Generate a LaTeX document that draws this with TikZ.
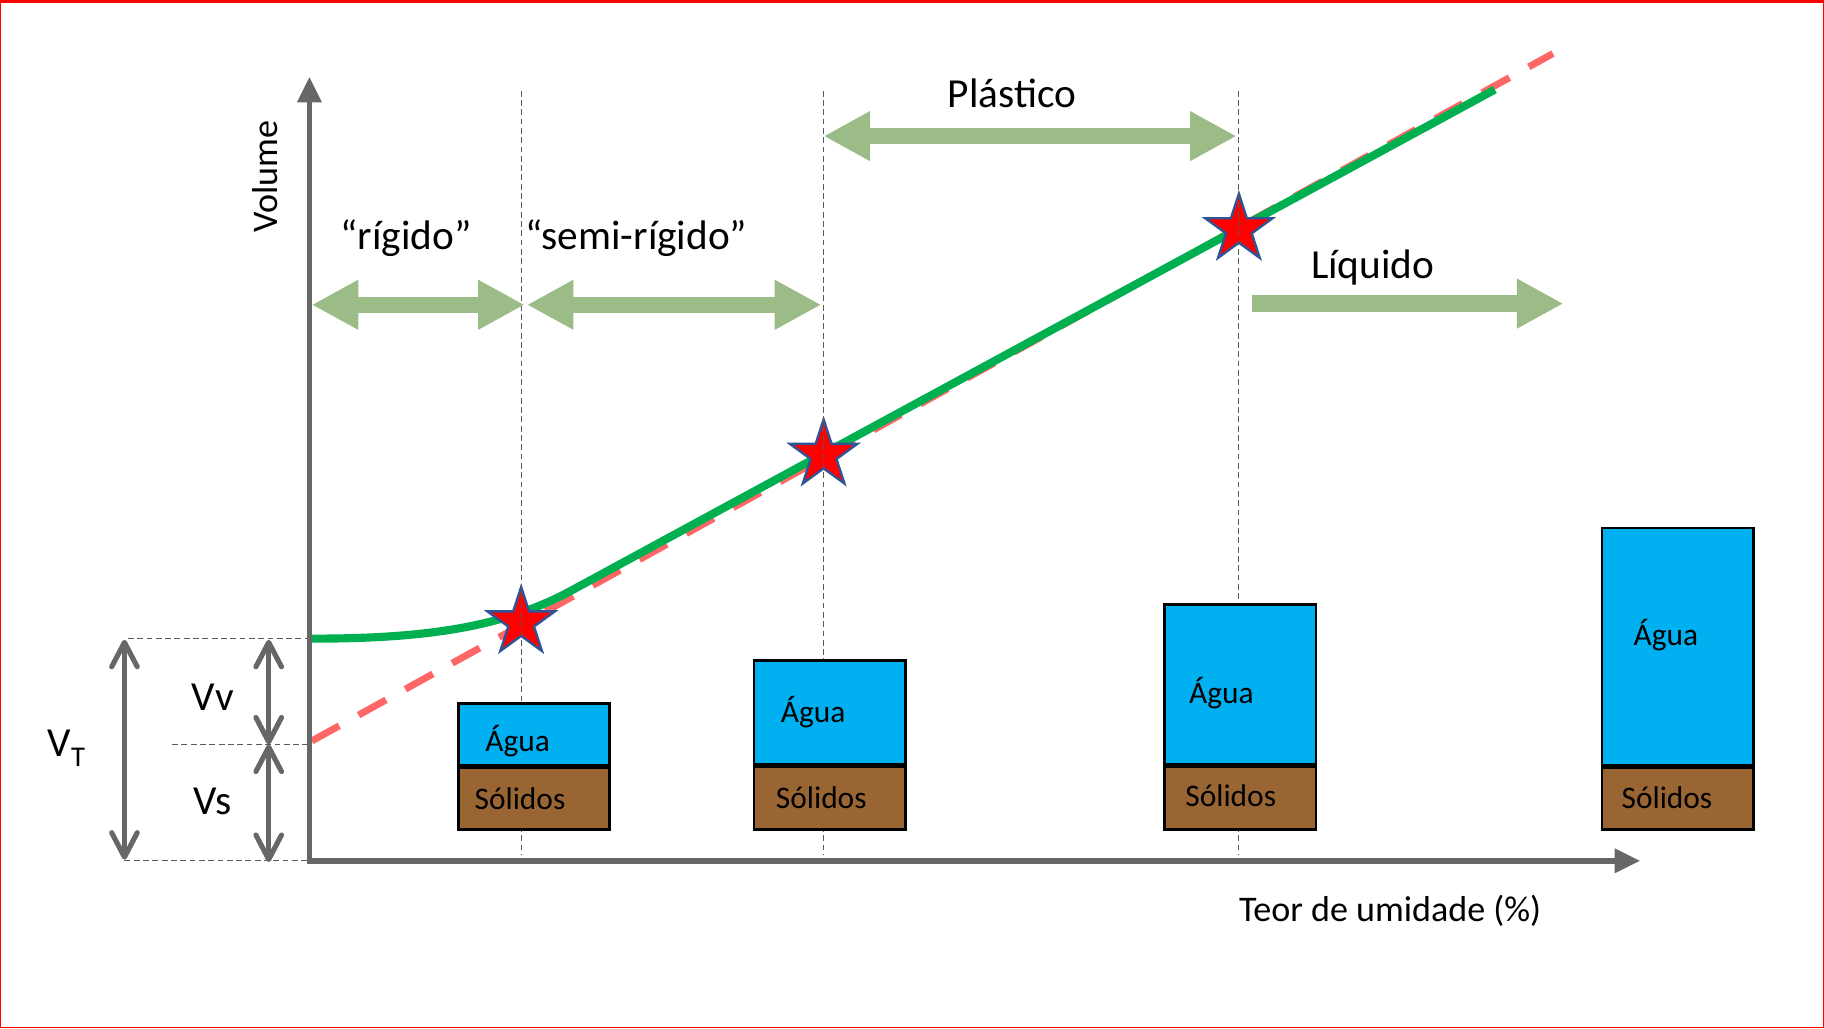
\documentclass[tikz,border=0pt]{standalone}
\usepackage{fontspec}
\setmainfont{Carlito}
\usetikzlibrary{arrows.meta,shapes.geometric}
\definecolor{axisgray}{RGB}{103,103,103}
\definecolor{guidegray}{RGB}{90,90,90}
\definecolor{sage}{RGB}{155,187,135}
\definecolor{curvegreen}{RGB}{0,176,80}
\definecolor{salmon}{RGB}{255,102,102}
\definecolor{water}{RGB}{0,176,240}
\definecolor{soil}{RGB}{153,102,51}
\definecolor{starblue}{RGB}{47,85,151}
\begin{document}
\begin{tikzpicture}[x=0.5pt,y=-0.5pt,
  axisline/.style={draw=axisgray,line width=2.5pt,-{Triangle[length=11pt,width=10pt]}},
  dimarrow/.style={draw=axisgray,line width=2.2pt,{Straight Barb[length=10.5pt,width=11pt,round]}-{Straight Barb[length=10.5pt,width=11pt,round]}},
  guide/.style={draw=guidegray,line width=0.4pt,dash pattern=on 2.5pt off 1.5pt},
  rangearrow/.style={draw=sage,line width=7pt,{Triangle[length=20pt,width=20pt]}-{Triangle[length=20pt,width=20pt]}},
  onearrow/.style={draw=sage,line width=7pt,-{Triangle[length=20pt,width=20pt]}},
  starmark/.style={star,star points=5,star point ratio=2.618,minimum size=30.5pt,inner sep=0pt,fill=red,draw=starblue,line width=1pt},
  wbox/.style={draw=black,line width=1.2pt,fill=water,inner sep=0pt,minimum width=65pt,anchor=south west},
  sbox/.style={draw=black,line width=1.2pt,fill=soil,inner sep=0pt,minimum width=65pt,minimum height=26.5pt,anchor=north west},
  bigtxt/.style={inner sep=0pt,font=\fontsize{17.75pt}{21pt}\selectfont},
  axtxt/.style={inner sep=0pt,font=\fontsize{15.5pt}{18pt}\selectfont},
  boxtxt/.style={inner sep=0pt,font=\fontsize{13.5pt}{16pt}\selectfont}]
\useasboundingbox (0,0) rectangle (1568,884);
% frame
\draw[red,line width=0.6pt] (0.6,0.6) rectangle (1567.4,883.4);
\draw[red,line width=1.2pt] (0,1.2) -- (1568,1.2);
% key coordinates
\coordinate (O) at (266,740);
\coordinate (ytip) at (266,66);
\coordinate (xtip) at (1410,740);
\coordinate (c0) at (268,549);
\coordinate (c1) at (490,508.3);
\coordinate (cend) at (1285,77);
\coordinate (r0) at (268,637);
\coordinate (rend) at (1335,46);
% red dashed trend line
\draw[salmon,line width=3pt,dash pattern=on 13.5pt off 9.5pt] (r0) -- (rend);
% green curve
\draw[curvegreen,line width=3.5pt] (c0) .. controls (360,549) and (430,540.6) .. (c1) -- (cend);
% stars
\node[starmark] (s1) at (448,535) {};
\node[starmark] (s2) at (708,391) {};
\node[starmark] (s3) at (1065,197) {};
% vertical guides
\coordinate (g1t) at (448,78); \coordinate (g1b) at (448,735);
\coordinate (g2t) at (708,78); \coordinate (g2b) at (708,735);
\coordinate (g3t) at (1065,78); \coordinate (g3b) at (1065,735);
\draw[guide] (g1t) -- (g1b);
\draw[guide] (g2t) -- (g2b);
\draw[guide] (g3t) -- (g3b);
% horizontal guides
\coordinate (hvT) at (110,549); \coordinate (hvTe) at (266,549);
\coordinate (hvM) at (148,640); \coordinate (hvMe) at (266,640);
\coordinate (hvB) at (107,740); \coordinate (hvBe) at (266,740);
\draw[guide] (hvT) -- (hvTe);
\draw[guide] (hvM) -- (hvMe);
\draw[guide] (hvB) -- (hvBe);
% boxes
\node[wbox,minimum height=26.5pt] (a1) at (393,659) {};
\node[sbox] (b1) at (393,659) {};
\node[wbox,minimum height=44.5pt] (a2) at (647,658) {};
\node[sbox,minimum height=27pt] (b2) at (647,658) {};
\node[wbox,minimum height=68.5pt] (a3) at (1000,658) {};
\node[sbox,minimum height=27pt] (b3) at (1000,658) {};
\node[wbox,minimum height=102pt] (a4) at (1376,659) {};
\node[sbox] (b4) at (1376,659) {};
\node[boxtxt] (ta1) at (445,637) {Água};
\node[boxtxt] (tb1) at (447,687) {Sólidos};
\node[boxtxt] (ta2) at (699,612) {Água};
\node[boxtxt] (tb2) at (706,686) {Sólidos};
\node[boxtxt] (ta3) at (1050,596) {Água};
\node[boxtxt] (tb3) at (1058,684) {Sólidos};
\node[boxtxt] (ta4) at (1432,546) {Água};
\node[boxtxt] (tb4) at (1433,686) {Sólidos};
% axes
\draw[axisline] (266,742) -- (ytip);
\draw[axisline] (263.5,740) -- (xtip);
\node[axtxt,rotate=90] (vol) at (228,152) {Volume};
\node[axtxt] (teor) at (1195,783) {Teor de umidade (\%)};
% dimension arrows
\coordinate (dT1) at (107,550); \coordinate (dT2) at (107,739);
\coordinate (dV1) at (231,550); \coordinate (dV2) at (231,640);
\coordinate (dS1) at (231,640); \coordinate (dS2) at (231,741);
\draw[dimarrow] (dT1) -- (dT2);
\draw[dimarrow] (dV1) -- (dV2);
\draw[dimarrow] (dS1) -- (dS2);
\node[bigtxt] (vv) at (183,599) {Vv};
\node[bigtxt] (vs) at (183,689) {Vs};
\node[bigtxt] (vt) at (57,643) {V\raisebox{-4.3pt}{\fontsize{12.3pt}{14pt}\selectfont T}};
% range arrows
\coordinate (ra1) at (268,262); \coordinate (ra2) at (451,262);
\coordinate (rb1) at (453,262); \coordinate (rb2) at (706,262);
\coordinate (rc1) at (708,117); \coordinate (rc2) at (1063,117);
\coordinate (rd1) at (1076,261); \coordinate (rd2) at (1344,261);
\draw[rangearrow] (ra1) -- (ra2);
\draw[rangearrow] (rb1) -- (rb2);
\draw[rangearrow] (rc1) -- (rc2);
\draw[onearrow] (rd1) -- (rd2);
\node[bigtxt] (lr) at (349,205) {“rígido”};
\node[bigtxt] (lsr) at (547,205) {“semi-rígido”};
\node[bigtxt] (lp) at (870,80) {Plástico};
\node[bigtxt] (ll) at (1180,230) {Líquido};
\end{tikzpicture}
\end{document}
